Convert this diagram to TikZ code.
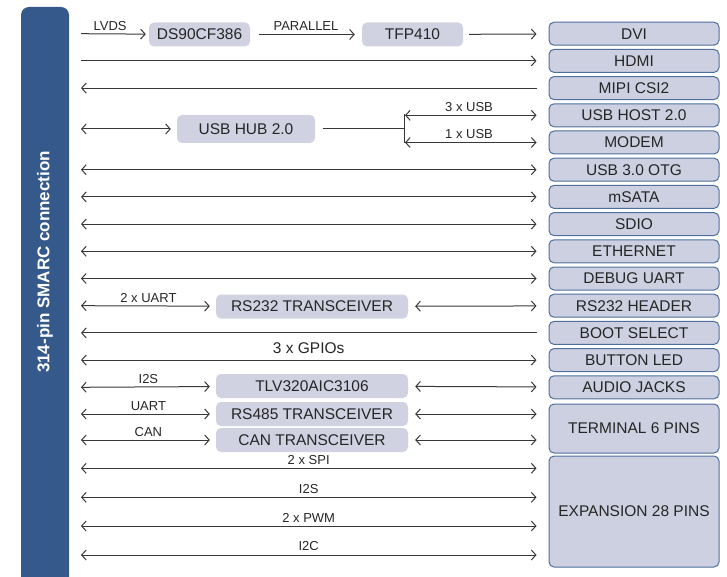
\documentclass[tikz,border=0pt]{standalone}
\usepackage{fontspec}
\setmainfont{Liberation Sans}
\usetikzlibrary{arrows.meta}
\definecolor{barblue}{HTML}{35598A}
\definecolor{chipfill}{HTML}{D0D2E2}
\definecolor{portfill}{HTML}{CDD0E0}
\definecolor{portline}{HTML}{4E6E9E}
\definecolor{linegray}{HTML}{383838}
\newcommand\boxfont{\fontsize{15.5}{18}\selectfont}
\newcommand\tagfont{\fontsize{13}{15}\selectfont}
\tikzset{
  port/.style={draw=portline,line width=1pt,fill=portfill,rounded corners=5pt,
    minimum width=170pt,minimum height=23pt,inner sep=0pt,text=black!85,font=\boxfont},
  chip/.style={fill=chipfill,rounded corners=5pt,minimum height=24pt,inner sep=0pt,
    text=black!85,font=\boxfont},
  conn/.style={line width=1pt,draw=linegray,>={Straight Barb[length=4.5pt,width=10pt]}},
  toport/.style={shorten >=12pt},
  tag/.style={above=2pt,inner sep=1pt,text=black!85,font=\tagfont},
}
\begin{document}
\begin{tikzpicture}[x=1pt,y=-1pt]
  \useasboundingbox (0,0) rectangle (727,577);
  % connector bar
  \fill[barblue,rounded corners=8pt] (21,577) -- (21,7) -- (69,7) -- (69,577);
  \node[rotate=90,text=white,font=\bfseries\fontsize{17}{20}\selectfont] (smarc) at (45,262) {314-pin SMARC connection};
  % interfaces on the right
  \foreach \n/\t [count=\i] in {dvi/DVI,hdmi/HDMI,mipi/MIPI CSI2,usbh/USB HOST 2.0,modem/MODEM,
      otg/USB 3.0 OTG,msata/mSATA,sdio/SDIO,eth/ETHERNET,dbg/DEBUG UART,rshead/RS232 HEADER,
      boot/BOOT SELECT,btn/BUTTON LED,audio/AUDIO JACKS}{
    \node[port] (\n) at (634,{33.7+27.2*(\i-1)}) {\t};
    \coordinate (l-\n) at (81,{33.7+27.2*(\i-1)});
  }
  \node[port,minimum height=49pt] (term) at (634,428.5) {TERMINAL 6 PINS};
  \node[port,minimum height=111pt] (exp) at (634,511.5) {EXPANSION 28 PINS};
  % chips in between
  \node[chip,minimum width=101pt] (ds90) at (199.5,34.5) {DS90CF386};
  \node[chip,minimum width=101pt] (tfp) at (412.5,34.5) {TFP410};
  \node[chip,minimum width=138pt,minimum height=28pt] (hub) at (246,129) {USB HUB 2.0};
  \node[chip,minimum width=192pt] (rs232) at (312,306.5) {RS232 TRANSCEIVER};
  \node[chip,minimum width=192pt] (tlv) at (312,386) {TLV320AIC3106};
  \node[chip,minimum width=192pt] (rs485) at (312,414) {RS485 TRANSCEIVER};
  \node[chip,minimum width=192pt] (can) at (312,440) {CAN TRANSCEIVER};
  \coordinate (l-hub) at (81,129);
  \coordinate (split) at (404,129);
  \foreach \n/\y in {rs485/414,can/440,spi/468.3,i2s/497.3,pwm/526,i2c/555}
    \coordinate (l-\n) at (81,\y);
  % video
  \draw[conn,->,shorten >=3pt] (l-dvi) -- (ds90) node[tag,pos=0.43]{LVDS};
  \draw[conn,->,shorten <=9pt,shorten >=7pt] (ds90) -- (tfp) node[tag,midway]{PARALLEL};
  \draw[conn,->,toport,shorten <=6pt] (tfp) -- (dvi);
  \draw[conn,->,toport] (l-hdmi) -- (hdmi);
  \draw[conn,<-,toport] (l-mipi) -- (mipi);
  % usb
  \draw[conn,<->,shorten >=6pt] (l-hub) -- (hub);
  \draw[conn,shorten <=8pt] (hub) -- (split);
  \draw[conn,shorten <=-1pt,shorten >=-1pt] (split |- usbh) -- (split |- modem);
  \draw[conn,<->,toport,shorten <=1pt] (split |- usbh) -- (usbh) node[tag,pos=0.45]{3 x USB};
  \draw[conn,<->,toport,shorten <=1pt] (split |- modem) -- (modem) node[tag,pos=0.45]{1 x USB};
  % direct lines
  \foreach \n in {otg,msata,sdio,eth,dbg}
    \draw[conn,<->,toport] (l-\n) -- (\n);
  \draw[conn,<->,shorten >=6pt] (l-rshead) -- (rs232) node[tag,midway]{2 x UART};
  \draw[conn,<->,toport,shorten <=7pt] (rs232) -- (rshead);
  \draw[conn,<-,toport] (l-boot) -- (boot);
  \draw[conn,<->,toport] (l-btn) -- (btn) node[tag,pos=0.487,font=\boxfont,above=3pt]{3 x GPIOs};
  % audio, terminal
  \draw[conn,<->,shorten >=6pt] (l-audio) -- (tlv) node[tag,midway]{I2S};
  \draw[conn,<->,toport,shorten <=7pt] (tlv) -- (audio);
  \draw[conn,<->,shorten >=6pt] (l-rs485) -- (rs485) node[tag,midway]{UART};
  \draw[conn,<->,toport,shorten <=7pt] (rs485) -- (rs485 -| term.west);
  \draw[conn,<->,shorten >=6pt] (l-can) -- (can) node[tag,midway]{CAN};
  \draw[conn,<->,toport,shorten <=7pt] (can) -- (can -| term.west);
  % expansion
  \foreach \n/\t in {spi/2 x SPI,i2s/I2S,pwm/2 x PWM,i2c/I2C}
    \draw[conn,<->,toport] (l-\n) -- (l-\n -| exp.west) node[tag,pos=0.487,above=0.5pt]{\t};
\end{tikzpicture}
\end{document}
